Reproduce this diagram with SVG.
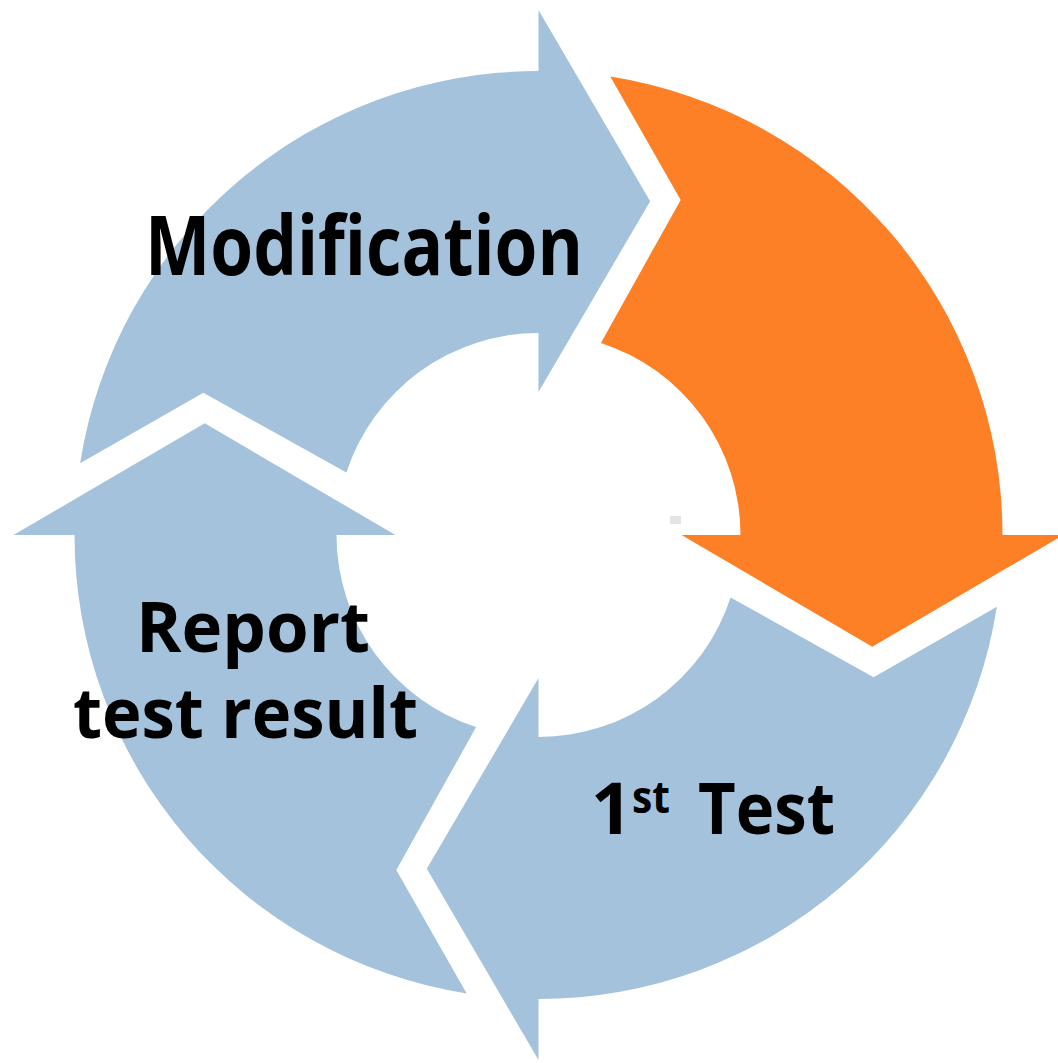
<svg xmlns="http://www.w3.org/2000/svg" width="1058" height="1063" viewBox="0 0 1058 1063">
<defs>
<style>
.blue{fill:#A5C2DC;}
.orange{fill:#FD8026;}
.lbl{font-family:"Open Sans","Noto Sans","Liberation Sans",sans-serif;font-weight:bold;fill:#000;}
</style>
<path id="seg" d="M610.3,76.6 A464,464 0 0 1 1002.5,535 L1063.5,535 L872.3,646.7 L681.5,535 L740.5,535 A202,202 0 0 0 600.9,342.9 L680.7,199.9 Z"/>
</defs>
<rect width="1058" height="1063" fill="#fff"/>
<g id="connectors"></g>
<g id="node-test-step">
<use href="#seg" class="orange"/>
</g>
<g id="node-first-test">
<use href="#seg" class="blue" transform="rotate(90 538.5 535)"/>
</g>
<g id="node-report">
<use href="#seg" class="blue" transform="rotate(180 538.5 535)"/>
</g>
<g id="node-modification">
<use href="#seg" class="blue" transform="rotate(270 538.5 535)"/>
</g>
<rect x="670" y="516" width="11" height="8" fill="#d8d8d8" opacity="0.7"/>
<g id="labels">
<text class="lbl" x="145" y="275" font-size="82" textLength="438" lengthAdjust="spacingAndGlyphs">Modification</text>
<text class="lbl" x="136" y="652" font-size="70" textLength="234" lengthAdjust="spacingAndGlyphs">Report</text>
<text class="lbl" x="73" y="738" font-size="70" textLength="345" lengthAdjust="spacingAndGlyphs">test result</text>
<text class="lbl" x="591" y="834" font-size="72">1</text>
<text class="lbl" x="632" y="813" font-size="44" textLength="38" lengthAdjust="spacingAndGlyphs">st</text>
<text class="lbl" x="698" y="834" font-size="72" textLength="137" lengthAdjust="spacingAndGlyphs">Test</text>
</g>
</svg>
